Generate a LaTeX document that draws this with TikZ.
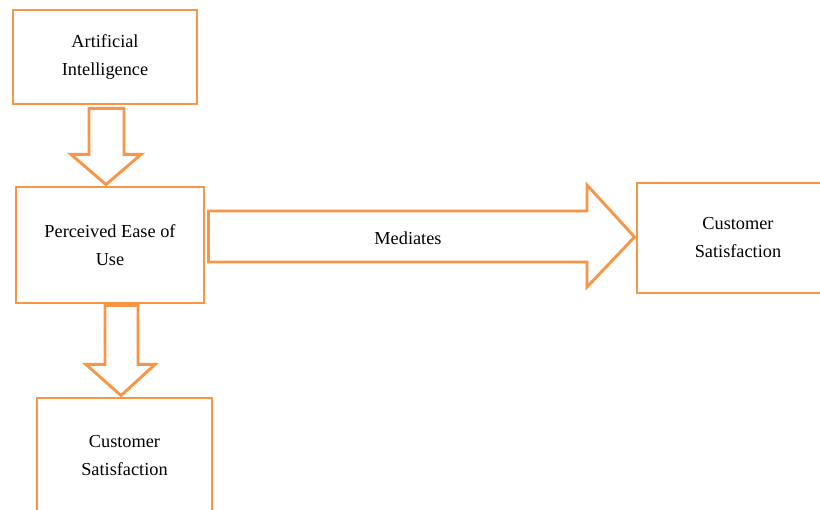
\documentclass[tikz,border=0pt]{standalone}
\usepackage{fontspec}
\setmainfont{Liberation Serif}
\usetikzlibrary{calc}
\definecolor{boxorange}{HTML}{F79646}
\begin{document}
\begin{tikzpicture}[x=1pt,y=-1pt,
  box/.style={draw=boxorange,line width=2.9pt,fill=white,align=center,inner sep=0pt,
    font=\fontsize{18.3}{28}\selectfont},
  blockarrow/.style={draw=boxorange,line width=2.9pt,fill=white,line join=miter}]
\useasboundingbox (0,0) rectangle (820,510);
\clip (0,0) rectangle (820,510);
\fill[white] (0,0) rectangle (820,510);
\node[box,minimum width=184pt,minimum height=94pt] (ai) at (105,57) {Artificial\\Intelligence};
\node[box,minimum width=188pt,minimum height=116pt] (peu) at (110,245) {Perceived Ease of\\Use};
\node[box,minimum width=175pt,minimum height=115pt] (csb) at (124.5,455.5) {Customer\\Satisfaction};
\node[box,minimum width=202pt,minimum height=110pt] (csr) at (738,238) {Customer\\Satisfaction};
% arrow AI -> PEU
\draw[blockarrow] ($(ai.south)+(-16,3)$) -- ($(ai.south)+(-16,49)$) -- ($(ai.south)+(-34,49)$)
  -- ($(peu.north)+(-4,-1)$) -- ($(ai.south)+(36,49)$) -- ($(ai.south)+(19,49)$)
  -- ($(ai.south)+(19,3)$) -- cycle;
% arrow PEU -> CS bottom
\draw[blockarrow] ($(peu.south)+(-5,1)$) -- ($(peu.south)+(-5,60)$) -- ($(peu.south)+(-24,60)$)
  -- ($(csb.north)+(-3.5,-1)$) -- ($(peu.south)+(45,60)$) -- ($(peu.south)+(28,60)$)
  -- ($(peu.south)+(28,1)$) -- cycle;
% mediates arrow
\draw[blockarrow] ($(peu.east)+(3,-34)$) -- (587,211) -- (587,185) -- ($(csr.west)+(-1,-1)$)
  -- (587,287) -- (587,262) -- ($(peu.east)+(3,17)$) -- cycle;
\node[font=\fontsize{18.3}{28}\selectfont] (med) at (408,238) {Mediates};
\end{tikzpicture}
\end{document}
